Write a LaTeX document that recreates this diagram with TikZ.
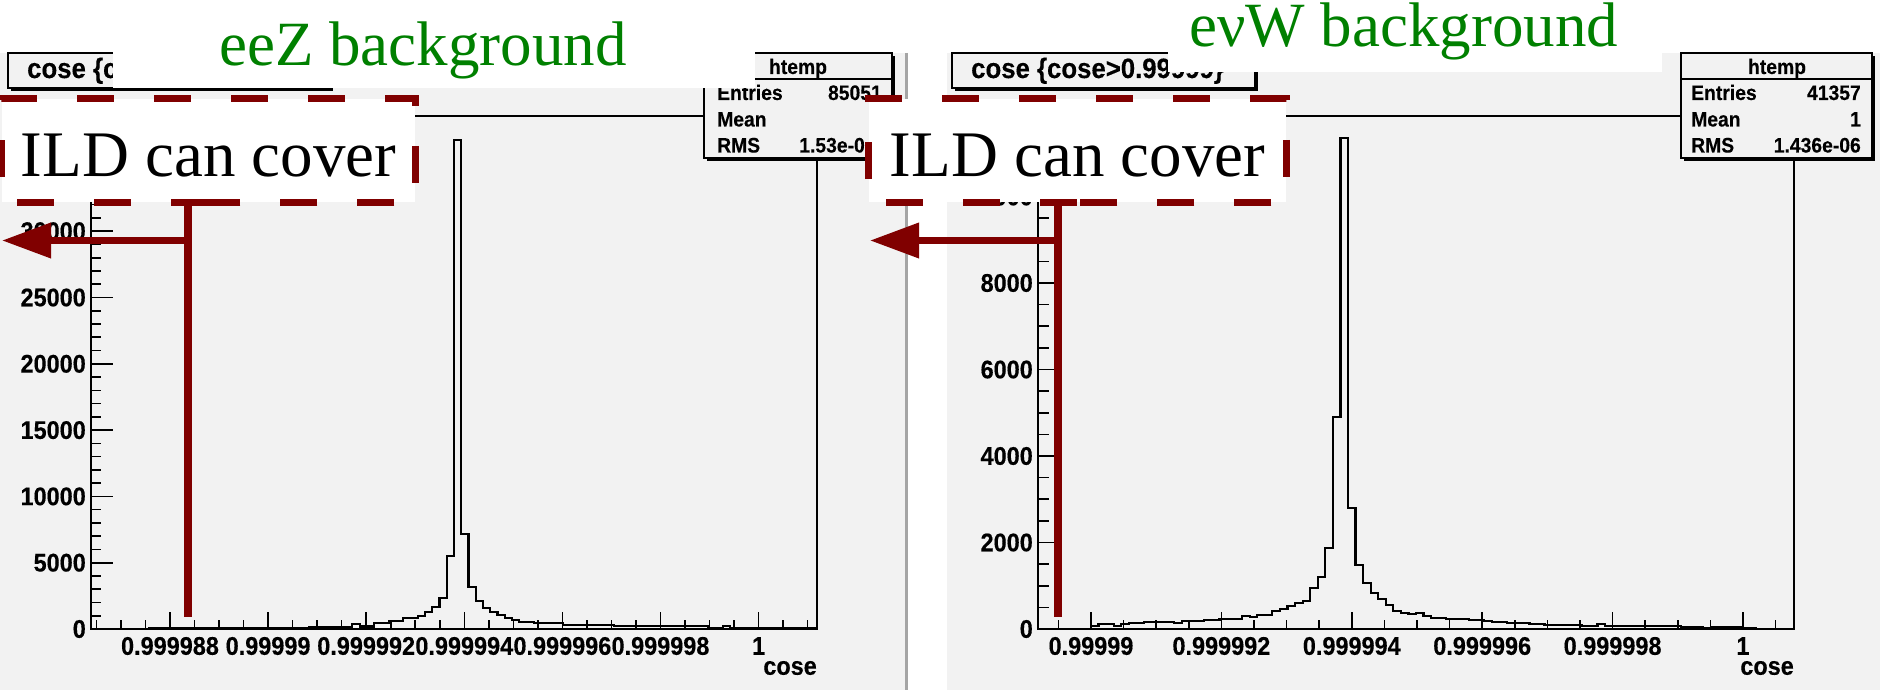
\documentclass[tikz,border=0pt]{standalone}
\usepackage{fontspec}
\setmainfont{Liberation Serif}
\newfontfamily\rootfont{Liberation Sans}[FakeStretch=0.92, BoldFeatures={FakeBold=0.3}]
\usetikzlibrary{arrows.meta}
\definecolor{padgray}{RGB}{242,242,242}
\definecolor{borgray}{RGB}{165,165,165}
\definecolor{ildred}{RGB}{128,0,0}
\definecolor{lblgreen}{RGB}{0,128,0}
\tikzset{
  axisline/.style={line width=2pt, draw=black},
  tickline/.style={line width=1.6pt, draw=black},
  histline/.style={line width=2.2pt, draw=black, line join=miter},
  ticklab/.style={font=\rootfont\bfseries\fontsize{25.5}{26}\selectfont, inner sep=0pt},
  statlab/.style={font=\rootfont\bfseries\fontsize{21}{22}\selectfont, inner sep=0pt},
  titlelab/.style={font=\rootfont\bfseries\fontsize{28}{28}\selectfont, inner sep=0pt},
  rootbox/.style={draw=black, fill=padgray, line width=1.5pt, inner sep=0pt},
  greenlab/.style={font=\fontsize{63}{63}\selectfont, text=lblgreen, inner sep=0pt},
  ildbox/.style={fill=white, inner sep=0pt, minimum width=413pt, minimum height=103pt,
    text height=53pt, text depth=0pt, font=\fontsize{65}{65}\selectfont},
  ilddash/.style={draw=ildred, line width=7pt, dash pattern=on 37pt off 40pt},
  redline/.style={draw=ildred, line width=8pt},
  redarrow/.style={draw=ildred, line width=7pt, -{Triangle[length=49pt,width=34pt]}},
}
\newcommand\drawhisto[4]{%
  \draw[histline] (#1,#3) \foreach \hv [count=\iv from 0] in {#4} { -- ({#1+\iv*#2},{#3-\hv}) -- ({#1+(\iv+1)*#2},{#3-\hv}) } -- ({#1+100*#2},#3);%
}
\begin{document}
\begin{tikzpicture}[x=1pt,y=-1pt]
\useasboundingbox (0,0) rectangle (1880,690);
\fill[white] (0,0) rectangle (1880,690);
% pads
\fill[padgray] (0,53) rectangle (905,690);
\draw[borgray, line width=3pt] (906,53) -- (906,690);
\fill[padgray] (947,53) rectangle (1880,690);

% ================= LEFT PANEL =================
\foreach \k in {0,...,38} \draw[tickline] (91,{629-13.26*\k}) -- ++(10,0);
\foreach \k in {0,...,7} \draw[tickline] (91,{629-66.3*\k}) -- ++(22,0);
\foreach \v [count=\c from 0] in {0,5000,10000,15000,20000,25000,30000}
  \node[ticklab, anchor=east] (lyl\c) at (86,{629-66.3*\c}) {\v};
\foreach \k in {-3,...,26} \draw[tickline] ({170+24.525*\k},629) -- ++(0,-9);
\foreach \k in {0,...,6} \draw[tickline] ({170+98.1*\k},629) -- ++(0,-17);
\foreach \v [count=\c from 0] in {0.999988,0.99999,0.999992,0.999994,0.999996,0.999998,1}
  \node[ticklab] (lxl\c) at ({170+98.1*\c},646) {\v};
\node[ticklab, anchor=east] (lxt) at (817,668) {cose};
\drawhisto{91}{7.26}{629}{0,0,0,0,0,0,0,0,1,1,
1,1,1,1,1,1,1,1,1,1,
1,1,1,1,1,1,1,1,1,1,
2,2,2,2,2,2,5,2.5,2.5,6,
6,8,8,11,11,13,17,22,31,73,
489,95,42,28,21,17,14,11,9,7,
7,6,6,6,6,4,4,4,4,4,
4,4,3,3,3,3,3,3,3,3,
3,3,3,3,3,1,1,3,1,1,
1,1,1,1,1,1,1,1,1,1}
\draw[axisline] (91,116) rectangle (817,629);
% title box
\fill[black] (11,56) rectangle (333,91);
\node[rootbox, minimum width=322pt, minimum height=35pt] (titleL) at (169,70.5) {};
\node[titlelab, anchor=base west] (titleLt) at (27,78) {cose \{c};
% stats box
\fill[black] (707,56) rectangle (895,161);
\node[rootbox, minimum width=188pt, minimum height=105pt] (statsL) at (798,105.5) {};
\draw[line width=1.5pt] ([yshift=-27pt]statsL.north west) -- ([yshift=-27pt]statsL.north east);
\node[statlab, anchor=base] (sLh) at (798,74) {htemp};
\node[statlab, anchor=base west] (sLe) at (717,100) {Entries};
\node[statlab, anchor=base east] (sLev) at (882,100) {85051};
\node[statlab, anchor=base west] (sLm) at (717,126.5) {Mean};
\node[statlab, anchor=base west] (sLr) at (717,152.5) {RMS};
\node[statlab, anchor=base east] (sLrv) at (865,152.5) {1.53e-0};

% ================= RIGHT PANEL =================
\foreach \k in {0,...,23} \draw[tickline] (1038,{629-21.625*\k}) -- ++(11,0);
\foreach \k in {0,...,5} \draw[tickline] (1038,{629-86.5*\k}) -- ++(20,0);
\foreach \v [count=\c from 0] in {0,2000,4000,6000,8000,10000}
  \node[ticklab, anchor=east] (ryl\c) at (1033,{629-86.5*\c}) {\v};
\foreach \k in {-1,...,21} \draw[tickline] ({1091+32.6*\k},629) -- ++(0,-9);
\foreach \k in {0,...,5} \draw[tickline] ({1091+130.4*\k},629) -- ++(0,-17);
\foreach \v [count=\c from 0] in {0.99999,0.999992,0.999994,0.999996,0.999998,1}
  \node[ticklab] (rxl\c) at ({1091+130.4*\c},646) {\v};
\node[ticklab, anchor=east] (rxt) at (1794,668) {cose};
\drawhisto{1038}{7.56}{629}{0,0,0,0,0,0,0,3,4.7,4.7,
3.3,5,5.7,5.7,7.3,7.3,7.3,7.3,6.3,8,
8,8,9,9,10,10,10,13.3,12.3,14,
14,18,20,23,25.7,28,40.7,52.3,81.3,212.3,
491,120.7,64,45.7,35.7,29.7,24,18.3,16.3,14.7,
16.3,13,11.3,11.3,10,10,10,9,9,8,
7.3,7.3,6.3,5.7,5.7,5,5,4.3,4.3,4.3,
4.3,4.3,3,3,5,3,3,3,3,3,
3,3,3,3,3,2.3,2.3,2.3,1.3,2.3,
2.3,2.3,2.3,1,1,0,0,0,0,0}
\draw[axisline] (1038,116) rectangle (1794,629);
% title box
\fill[black] (955,56) rectangle (1258,91);
\node[rootbox, minimum width=303pt, minimum height=35pt] (titleR) at (1103.5,70.5) {};
\node[titlelab, anchor=base west] (titleRt) at (971,78) {cose \{cose>0.99999\}};
% stats box
\fill[black] (1684,56) rectangle (1875,161);
\node[rootbox, minimum width=191pt, minimum height=105pt] (statsR) at (1776.5,105.5) {};
\draw[line width=1.5pt] ([yshift=-27pt]statsR.north west) -- ([yshift=-27pt]statsR.north east);
\node[statlab, anchor=base] (sRh) at (1777,74) {htemp};
\node[statlab, anchor=base west] (sRe) at (1691,100) {Entries};
\node[statlab, anchor=base east] (sRev) at (1861,100) {41357};
\node[statlab, anchor=base west] (sRm) at (1691,126.5) {Mean};
\node[statlab, anchor=base east] (sRmv) at (1861,126.5) {1};
\node[statlab, anchor=base west] (sRr) at (1691,152.5) {RMS};
\node[statlab, anchor=base east] (sRrv) at (1861,152.5) {1.436e-06};

% ================= GREEN LABELS =================
\fill[white] (113,0) rectangle (755,88);
\node[greenlab, anchor=base west] (lblL) at (219,66) {eeZ background};
\fill[white] (1168,0) rectangle (1662,72);
\node[greenlab, anchor=base west] (lblR) at (1189,47) {eνW background};

% ================= ILD BOXES =================
\node[ildbox] (ildL) at (208.5,150.5) {ILD can cover};
\draw[ilddash] ([xshift=206pt]ildL.south west) -- (ildL.south west) -- (ildL.north west)
  -- (ildL.north east) -- (ildL.south east) -- cycle;
\node[ildbox, minimum width=417pt] (ildR) at (1077.5,150.5) {ILD can cover};
\draw[ilddash] ([xshift=208pt]ildR.south west) -- (ildR.south west) -- (ildR.north west)
  -- (ildR.north east) -- (ildR.south east) -- cycle;

% red lines and arrows
\coordinate (vLb) at (188,617);
\coordinate (tipL) at (2,240.5);
\draw[redline] (ildL.south -| vLb) -- (vLb);
\draw[redarrow] (vLb |- tipL) -- (tipL);
\coordinate (vRb) at (1058,617);
\coordinate (tipR) at (870,240.5);
\draw[redline] (ildR.south -| vRb) -- (vRb);
\draw[redarrow] (vRb |- tipR) -- (tipR);
\end{tikzpicture}
\end{document}
